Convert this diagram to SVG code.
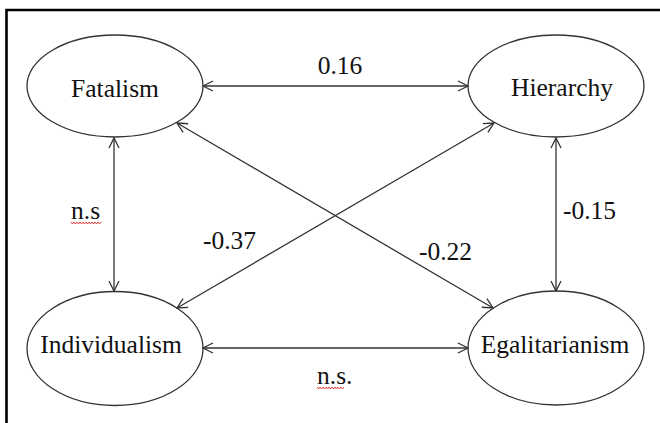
<svg xmlns="http://www.w3.org/2000/svg" width="660" height="423" viewBox="0 0 660 423">
<style>
.node ellipse{fill:#fff;stroke:#333;stroke-width:1.3}
text{font-family:"Liberation Serif","Times New Roman",serif;font-size:25.5px;fill:#111}
.lbl{text-anchor:middle}
.conn line{stroke:#333;stroke-width:1.3;marker-start:url(#ah);marker-end:url(#ah)}
.sq{fill:none;stroke:#e03030;stroke-width:0.9}
</style>
<defs>
<marker id="ah" markerUnits="userSpaceOnUse" markerWidth="14" markerHeight="14" viewBox="-12 -7 14 14" refX="0" refY="0" orient="auto-start-reverse">
<path d="M-10,-5 L0,0 L-10,5" fill="none" stroke="#333" stroke-width="1.3"/>
</marker>
</defs>
<rect width="660" height="423" fill="#fff"/>
<path d="M6.5,423 V10 H660" fill="none" stroke="#000" stroke-width="2.6"/>
<g id="fatalism" class="node"><ellipse cx="115" cy="86" rx="88" ry="51"/><text class="lbl" x="115" y="97">Fatalism</text></g>
<g id="hierarchy" class="node"><ellipse cx="556" cy="86" rx="88" ry="51"/><text class="lbl" x="562" y="96">Hierarchy</text></g>
<g id="individualism" class="node"><ellipse cx="115" cy="348.5" rx="88" ry="57"/><text class="lbl" x="111" y="353">Individualism</text></g>
<g id="egalitarianism" class="node"><ellipse cx="556" cy="348" rx="88" ry="57"/><text class="lbl" x="555" y="353">Egalitarianism</text></g>
<g id="connectors" class="conn">
<line x1="203" y1="86" x2="468" y2="86"/>
<line x1="203" y1="348" x2="468" y2="348"/>
<line x1="114" y1="138" x2="114" y2="291"/>
<line x1="556" y1="138" x2="556" y2="291"/>
<line x1="177" y1="123" x2="493" y2="308"/>
<line x1="494" y1="123" x2="177" y2="308"/>
</g>
<g id="labels">
<text class="lbl" x="340" y="74">0.16</text>
<text x="71" y="219">n.s</text>
<text x="563" y="219">-0.15</text>
<text x="203" y="249">-0.37</text>
<text x="419" y="260">-0.22</text>
<text x="317" y="384">n.s.</text>
<polyline class="sq" points="71,222 72.5,224 74,222 75.5,224 77,222 78.5,224 80,222 81.5,224 83,222 84.5,224 86,222 87.5,224 89,222 90.5,224 92,222 93.5,224 95,222 96.5,224 98,222 99.5,224 101,222"/>
<polyline class="sq" points="317,387 318.5,389 320,387 321.5,389 323,387 324.5,389 326,387 327.5,389 329,387 330.5,389 332,387 333.5,389 335,387 336.5,389 338,387 339.5,389 341,387 342.5,389 344,387"/>
</g>
</svg>
